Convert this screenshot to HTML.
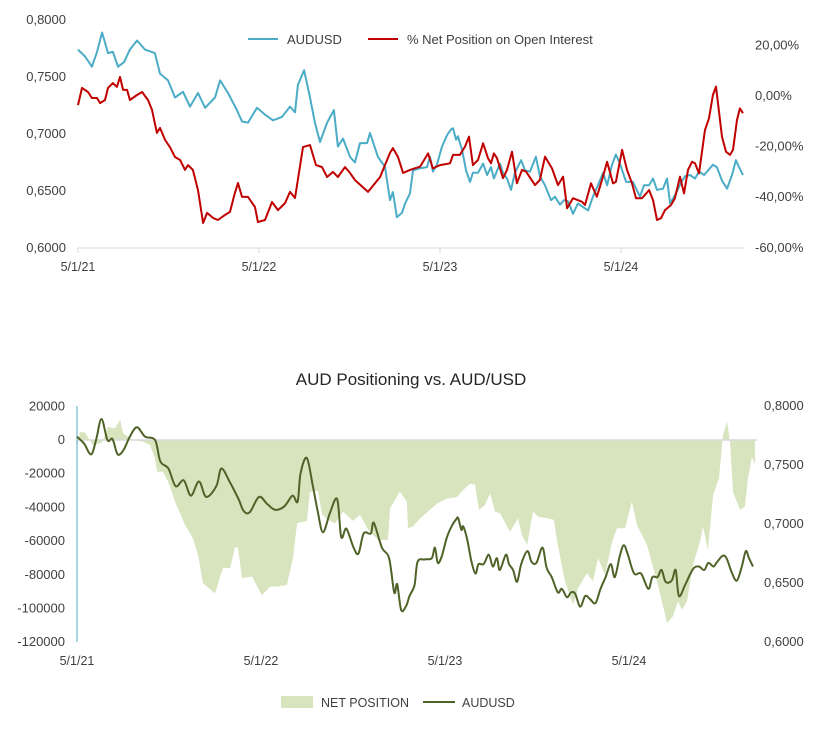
<!DOCTYPE html>
<html><head><meta charset="utf-8">
<style>
html,body{margin:0;padding:0;background:#fff;}
svg{display:block;font-family:"Liberation Sans",sans-serif;}
</style></head>
<body>
<svg id="c" width="831" height="730" viewBox="0 0 831 730">
  <g id="topchart"></g>
  <g id="botchart"></g>
</svg>
<script>
// ---- data (t = years since 5/1/21) ----
const audT = [0,.039,.077,.105,.133,.166,.193,.221,.254,.287,.326,.370,.425,.453,.497,.536,.580,.619,.663,.702,.757,.785,.829,.878,.906,.939,.989,1.033,1.077,1.127,1.171,1.199,1.215,1.249,1.282,1.309,1.337,1.376,1.414,1.436,1.464,1.503,1.530,1.558,1.597,1.613,1.657,1.696,1.724,1.740,1.762,1.790,1.807,1.834,1.851,1.890,1.928,1.945,1.961,1.983,2.011,2.039,2.061,2.072,2.089,2.099,2.122,2.144,2.166,2.182,2.210,2.238,2.260,2.282,2.298,2.331,2.348,2.370,2.392,2.414,2.448,2.470,2.497,2.530,2.552,2.580,2.613,2.635,2.663,2.685,2.707,2.735,2.762,2.790,2.818,2.845,2.873,2.901,2.923,2.950,2.972,2.994,3.028,3.066,3.105,3.127,3.155,3.177,3.199,3.232,3.254,3.271,3.304,3.331,3.354,3.381,3.409,3.431,3.459,3.475,3.508,3.530,3.558,3.586,3.613,3.635,3.652,3.674];
const audusd = [.774,.768,.759,.772,.789,.771,.772,.759,.763,.774,.782,.774,.771,.753,.747,.732,.737,.724,.736,.723,.732,.747,.736,.721,.711,.710,.723,.717,.712,.715,.724,.719,.743,.756,.732,.710,.693,.710,.721,.689,.696,.680,.675,.692,.692,.701,.680,.671,.642,.649,.627,.631,.639,.648,.668,.670,.671,.680,.667,.673,.689,.699,.704,.705,.695,.698,.686,.668,.658,.666,.666,.674,.664,.671,.661,.674,.666,.661,.651,.666,.677,.668,.667,.680,.663,.655,.642,.645,.638,.642,.641,.630,.639,.636,.633,.645,.655,.666,.655,.673,.682,.674,.658,.658,.645,.655,.655,.661,.651,.652,.661,.639,.648,.657,.663,.664,.661,.667,.664,.667,.673,.671,.659,.652,.664,.677,.671,.664];
const pctT = [0,.022,.055,.077,.105,.122,.149,.166,.193,.215,.232,.249,.271,.287,.326,.354,.387,.409,.436,.453,.481,.508,.536,.564,.591,.608,.635,.663,.691,.713,.746,.773,.812,.840,.867,.884,.906,.939,.978,.994,1.033,1.072,1.105,1.144,1.171,1.199,1.243,1.282,1.315,1.348,1.376,1.409,1.436,1.475,1.503,1.530,1.602,1.669,1.724,1.740,1.768,1.796,1.834,1.890,1.934,1.961,2.000,2.055,2.072,2.110,2.138,2.160,2.182,2.210,2.238,2.265,2.282,2.298,2.315,2.348,2.370,2.398,2.425,2.453,2.475,2.525,2.552,2.580,2.619,2.652,2.680,2.702,2.735,2.785,2.801,2.834,2.867,2.895,2.923,2.956,2.972,3.006,3.033,3.061,3.083,3.116,3.155,3.177,3.199,3.221,3.243,3.276,3.298,3.326,3.348,3.370,3.392,3.409,3.431,3.464,3.486,3.508,3.525,3.558,3.580,3.602,3.619,3.641,3.657,3.674];
const pctNet = [-3.6,3.2,1.6,-0.8,-0.8,-2.8,-1.6,3.2,5.1,3.6,7.5,2.4,2.4,-1.6,0.4,1.6,-1.6,-5.5,-14.6,-12.6,-17.4,-20.2,-24.1,-25.3,-29.2,-27.3,-29.2,-37.2,-50.2,-46.2,-48.2,-49.0,-47.0,-45.8,-38.3,-34.4,-39.9,-39.9,-43.9,-49.8,-49.0,-41.9,-45.1,-42.3,-37.9,-40.3,-20.2,-19.4,-27.3,-28.1,-32.0,-30.0,-32.0,-28.1,-30.4,-33.2,-37.9,-32.0,-22.5,-20.6,-24.1,-30.4,-29.2,-27.9,-22.7,-28.6,-27.3,-26.6,-23.3,-23.3,-20.0,-16.1,-27.3,-25.3,-18.7,-24.6,-26.6,-22.7,-24.6,-32.5,-29.2,-22.0,-34.5,-29.2,-29.9,-35.2,-33.2,-24.0,-28.6,-35.2,-31.9,-44.4,-40.4,-41.8,-43.1,-34.5,-39.8,-33.2,-26.0,-34.5,-33.9,-21.3,-29.2,-34.5,-40.4,-40.4,-37.2,-41.1,-49.0,-48.3,-45.1,-43.1,-40.4,-31.9,-38.5,-29.2,-26.0,-26.6,-30.6,-13.4,-8.8,0.4,3.7,-16.1,-22.0,-23.3,-21.3,-9.5,-4.9,-6.8];
const netT = [0,.016,.043,.087,.136,.168,.207,.234,.250,.304,.359,.397,.424,.435,.467,.495,.533,.587,.630,.658,.685,.750,.793,.832,.859,.875,.897,.951,1.005,1.049,1.087,1.141,1.174,1.196,1.250,1.266,1.310,1.332,1.375,1.402,1.446,1.500,1.538,1.582,1.636,1.690,1.701,1.755,1.793,1.799,1.826,1.864,1.918,1.957,2.011,2.065,2.098,2.136,2.163,2.185,2.217,2.245,2.272,2.299,2.353,2.397,2.418,2.446,2.478,2.505,2.554,2.592,2.609,2.652,2.696,2.723,2.772,2.804,2.832,2.870,2.908,2.935,2.978,3.016,3.043,3.098,3.152,3.207,3.239,3.266,3.288,3.315,3.348,3.386,3.402,3.429,3.457,3.489,3.511,3.533,3.549,3.565,3.603,3.630,3.647,3.668,3.685];
const netPos = [-4700,4700,4500,-3000,-1500,7700,7000,11900,4000,0,-1000,-3000,-10900,-18800,-18800,-24700,-36600,-50400,-58300,-68300,-85000,-90900,-76000,-76000,-63500,-64000,-82000,-81000,-92100,-87000,-87000,-86000,-70000,-49300,-48000,-30700,-30000,-44400,-48000,-49400,-42500,-48000,-44400,-53300,-59300,-59300,-40500,-30700,-36600,-52300,-51400,-46500,-41500,-37700,-34800,-33800,-29800,-25900,-26500,-41500,-38600,-31700,-42500,-43500,-54400,-46400,-56300,-62300,-42500,-45400,-46400,-47400,-60300,-83900,-97800,-88000,-79000,-83900,-70200,-80000,-60300,-52400,-52400,-36600,-50400,-62300,-83900,-108600,-104600,-95700,-100700,-95700,-74000,-60300,-51400,-65200,-32600,-22700,3000,10900,-1000,-30700,-41500,-39500,-22700,-9900,-14800];
const dateLabels = ["5/1/21","5/1/22","5/1/23","5/1/24"];
const dateTicks = [0,1,2,3];
const leftTicksTop = [0.80,0.75,0.70,0.65,0.60];
const rightTicksTop = [20,0,-20,-40,-60];
const leftTicksBot = [20000,0,-20000,-40000,-60000,-80000,-100000,-120000];
const rightTicksBot = [0.80,0.75,0.70,0.65,0.60];

const NS="http://www.w3.org/2000/svg";
function mk(parent,tag,attrs,text){const el=document.createElementNS(NS,tag);for(const k in attrs)el.setAttribute(k,attrs[k]);if(text!==undefined)el.textContent=text;parent.appendChild(el);return el;}
const fmt4=v=>v.toFixed(4).replace('.',',');
const fmtPct=v=>v.toFixed(2).replace('.',',')+'%';
const nA=Math.min(audT.length,audusd.length);
const nP=Math.min(pctT.length,pctNet.length);
const nN=Math.min(netT.length,netPos.length);

// ---------- TOP CHART ----------
const topG=document.getElementById('topchart');
const tx=t=>78+t*181;
const ty=v=>20+(0.80-v)/0.20*228;
const tyR=p=>96-p*2.53;
let el;
el=mk(topG,'line',{x1:78,y1:248,x2:745,y2:248,stroke:'#d9d9d9','stroke-width':1});


dateTicks.forEach((d,i)=>{
  el=mk(topG,'line',{x1:tx(d),y1:248,x2:tx(d),y2:253,stroke:'#d9d9d9'});
  
  
  el=mk(topG,'text',{x:tx(d),y:271,'text-anchor':'middle','font-size':12.5,fill:'#404040'},dateLabels[i]);
  
  
});
leftTicksTop.forEach(v=>{
  el=mk(topG,'text',{x:66,y:ty(v)+4,'text-anchor':'end','font-size':13,fill:'#404040'},fmt4(v));
  
  
});
rightTicksTop.forEach(v=>{
  el=mk(topG,'text',{x:755,y:tyR(v)+4,'text-anchor':'start','font-size':13,fill:'#404040'},fmtPct(v));
  
  
});
let ptsA=[];for(let i=0;i<nA;i++)ptsA.push(tx(audT[i]).toFixed(1)+','+ty(audusd[i]).toFixed(1));
el=mk(topG,'polyline',{points:ptsA.join(' '),fill:'none',stroke:'#4bacc6','stroke-width':2,'stroke-linejoin':'round'});


let ptsP=[];for(let i=0;i<nP;i++)ptsP.push(tx(pctT[i]).toFixed(1)+','+tyR(pctNet[i]).toFixed(1));
el=mk(topG,'polyline',{points:ptsP.join(' '),fill:'none',stroke:'#c00000','stroke-width':2,'stroke-linejoin':'round'});


el=mk(topG,'line',{x1:248,y1:39,x2:278,y2:39,stroke:'#4bacc6','stroke-width':2});


el=mk(topG,'text',{x:287,y:44,'font-size':13,fill:'#404040'},'AUDUSD');


el=mk(topG,'line',{x1:368,y1:39,x2:398,y2:39,stroke:'#c00000','stroke-width':2});


el=mk(topG,'text',{x:407,y:44,'font-size':13,fill:'#404040'},'% Net Position on Open Interest');



// ---------- BOTTOM CHART ----------
const botG=document.getElementById('botchart');
const bx=t=>77+t*184;
const by=v=>440-v/20000*33.7;
const byR=v=>406+(0.80-v)/0.20*236;
el=mk(botG,'text',{x:411,y:385,'text-anchor':'middle','font-size':17,fill:'#262626'},'AUD Positioning vs. AUD/USD');


leftTicksBot.forEach(v=>{
  el=mk(botG,'text',{x:65,y:by(v)+4,'text-anchor':'end','font-size':13,fill:'#404040'},String(v));
  
  
});
rightTicksBot.forEach(v=>{
  el=mk(botG,'text',{x:764,y:byR(v)+4,'text-anchor':'start','font-size':13,fill:'#404040'},fmt4(v));
  
  
});
dateTicks.forEach((d,i)=>{
  el=mk(botG,'text',{x:bx(d),y:665,'text-anchor':'middle','font-size':12.5,fill:'#404040'},dateLabels[i]);
  
  
});
let ap='M'+bx(netT[0]).toFixed(1)+','+by(0);
for(let i=0;i<nN;i++)ap+=' L'+bx(netT[i]).toFixed(1)+','+by(netPos[i]).toFixed(1);
ap+=' L'+bx(netT[nN-1]).toFixed(1)+','+by(0)+' Z';
el=mk(botG,'path',{d:ap,fill:'#d7e4bd',stroke:'none'});


el=mk(botG,'line',{x1:77,y1:by(0),x2:757,y2:by(0),stroke:'#d9d9d9','stroke-width':1.5});


el=mk(botG,'line',{x1:77,y1:406,x2:77,y2:642,stroke:'#4bacc6','stroke-width':1});


const P=[];for(let i=0;i<nA;i++)P.push([bx(audT[i]),byR(audusd[i])]);
let d='M'+P[0][0].toFixed(1)+','+P[0][1].toFixed(1);
for(let i=0;i<P.length-1;i++){
  const p0=P[Math.max(0,i-1)],p1=P[i],p2=P[i+1],p3=P[Math.min(P.length-1,i+2)];
  const c1=[p1[0]+(p2[0]-p0[0])/6,p1[1]+(p2[1]-p0[1])/6];
  const c2=[p2[0]-(p3[0]-p1[0])/6,p2[1]-(p3[1]-p1[1])/6];
  d+=' C'+c1[0].toFixed(1)+','+c1[1].toFixed(1)+' '+c2[0].toFixed(1)+','+c2[1].toFixed(1)+' '+p2[0].toFixed(1)+','+p2[1].toFixed(1);
}
el=mk(botG,'path',{d:d,fill:'none',stroke:'#4f6228','stroke-width':2,'stroke-linejoin':'round'});


el=mk(botG,'rect',{x:281,y:696,width:32,height:12,fill:'#d7e4bd'});


el=mk(botG,'text',{x:321,y:707,'font-size':12.5,fill:'#404040'},'NET POSITION');


el=mk(botG,'line',{x1:423,y1:702,x2:455,y2:702,stroke:'#4f6228','stroke-width':2});


el=mk(botG,'text',{x:462,y:707,'font-size':12.5,fill:'#404040'},'AUDUSD');


</script>
</body></html>
